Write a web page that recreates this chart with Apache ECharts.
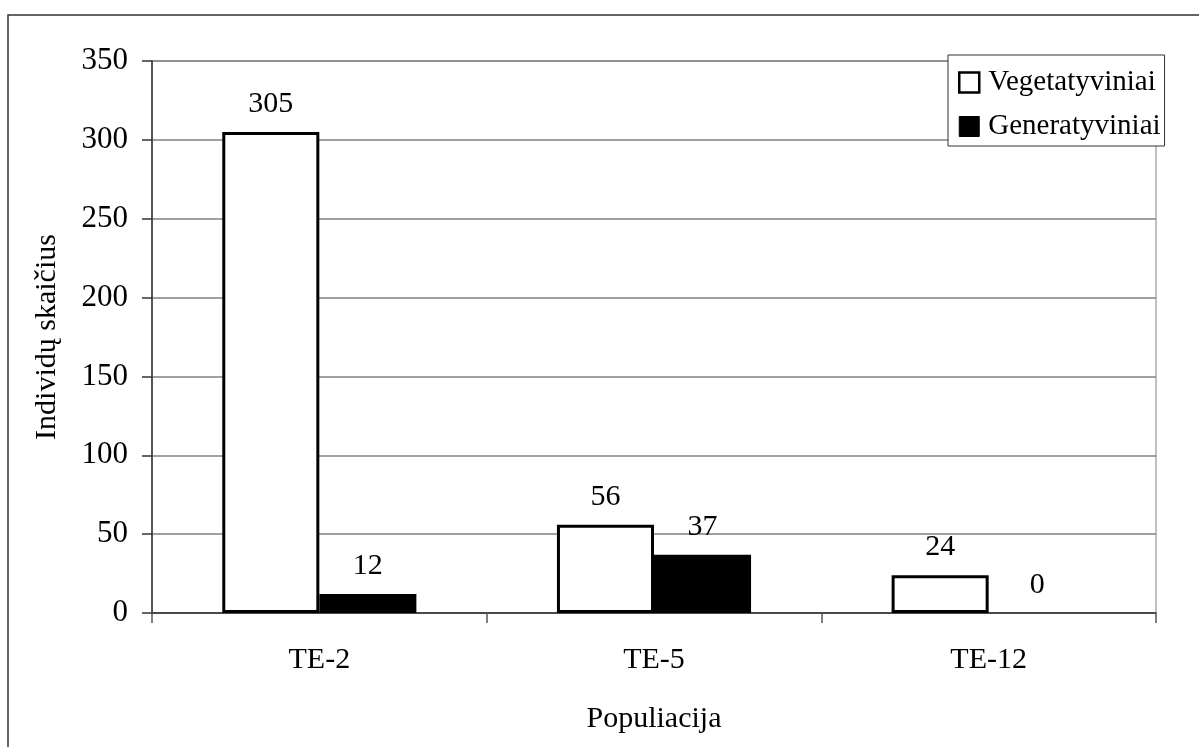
<!DOCTYPE html>
<html>
<head>
<meta charset="utf-8">
<script src="https://cdn.jsdelivr.net/npm/echarts@6/dist/echarts.min.js"></script>
<style>
  html, body { margin: 0; padding: 0; background: #fff; }
  #chart { width: 1199px; height: 747px; }
</style>
</head>
<body>
<div id="chart"></div>
<script>
// Population counts per site
const categories = ['TE-2', 'TE-5', 'TE-12'];
const vegetatyviniai = [305, 56, 24];
const generatyviniai = [12, 37, 0];
const seriesNames = ['Vegetatyviniai', 'Generatyviniai'];

const FONT = '"Liberation Serif", "Times New Roman", serif';
const FS = 30;

const chart = echarts.init(document.getElementById('chart'), null, { renderer: 'canvas' });

const labelStyle = {
  show: true,
  position: 'top',
  distance: 13,
  fontFamily: FONT,
  fontSize: FS,
  color: '#000'
};

chart.setOption({
  backgroundColor: '#fff',
  animation: false,
  graphic: [{
    type: 'rect',
    shape: { x: 8, y: 15, width: 1300, height: 900 },
    style: { fill: 'none', stroke: '#333', lineWidth: 1.5 },
    silent: true,
    z: 0
  }],
  grid: {
    left: 152, right: 43, top: 61, bottom: 134,
    show: true,
    borderColor: '#808080',
    borderWidth: 1,
    backgroundColor: 'transparent'
  },
  legend: {
    orient: 'vertical',
    left: 948,
    top: 55,
    padding: [13, 4, 5, 10],
    itemGap: 15,
    itemWidth: 20,
    itemHeight: 20,
    backgroundColor: '#fff',
    borderColor: '#333',
    borderWidth: 1,
    z: 10,
    textStyle: { fontFamily: FONT, fontSize: 29, color: '#000', padding: [0, 0, 0, 4] },
    data: [
      { name: seriesNames[0], icon: 'rect', itemStyle: { color: '#fff', borderColor: '#000', borderWidth: 2.5 } },
      { name: seriesNames[1], icon: 'rect', itemStyle: { color: '#000', borderColor: '#000', borderWidth: 1 } }
    ]
  },
  xAxis: {
    type: 'category',
    data: categories,
    name: 'Populiacija',
    nameLocation: 'middle',
    nameGap: 91,
    nameTextStyle: { fontFamily: FONT, fontSize: FS, color: '#000' },
    axisLine: { lineStyle: { color: '#333', width: 1.5 } },
    axisTick: { show: true, length: 10, lineStyle: { color: '#555', width: 1.5 } },
    axisLabel: { fontFamily: FONT, fontSize: FS, color: '#000', margin: 32 },
    splitLine: { show: false }
  },
  yAxis: {
    type: 'value',
    min: 0,
    max: 350,
    interval: 50,
    name: 'Individų skaičius',
    nameLocation: 'middle',
    nameRotate: 90,
    nameGap: 90,
    nameTextStyle: { fontFamily: FONT, fontSize: FS, color: '#000' },
    axisLine: { show: true, lineStyle: { color: '#333', width: 1.5 } },
    axisTick: { show: true, length: 10, lineStyle: { color: '#333', width: 1.5 } },
    axisLabel: { fontFamily: FONT, fontSize: 31, color: '#000', margin: 24, padding: [4, 0, 0, 0] },
    splitLine: { show: true, lineStyle: { color: '#808080', width: 1.5 } }
  },
  series: [
    {
      name: seriesNames[0],
      type: 'bar',
      data: vegetatyviniai,
      barGap: '0%',
      barCategoryGap: '42%',
      itemStyle: { color: '#fff', borderColor: '#000', borderWidth: 3 },
      label: labelStyle
    },
    {
      name: seriesNames[1],
      type: 'bar',
      data: generatyviniai,
      barGap: '0%',
      barCategoryGap: '42%',
      itemStyle: { color: '#000', borderWidth: 0 },
      label: labelStyle
    }
  ]
});
</script>
</body>
</html>
